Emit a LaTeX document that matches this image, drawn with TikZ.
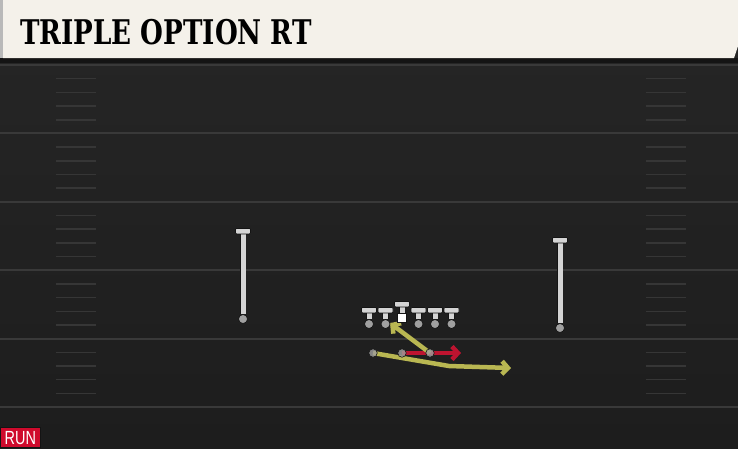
\documentclass[tikz,border=0pt]{standalone}
\usepackage{fontspec}
\usepackage{tikz}
\usetikzlibrary{arrows.meta}
\usetikzlibrary{positioning}
\newfontfamily\titlefont{DejaVu Serif}
\newfontfamily\tagfont{Liberation Sans}
\definecolor{fieldtop}{HTML}{262626}
\definecolor{fieldbot}{HTML}{1D1D1D}
\definecolor{yardline}{HTML}{393939}
\definecolor{hashline}{HTML}{363636}
\definecolor{cream}{HTML}{F4F1EA}
\definecolor{runred}{HTML}{CF0A2C}
\definecolor{routered}{HTML}{BE1430}
\definecolor{routeyellow}{HTML}{B9B752}
\definecolor{playergray}{HTML}{D4D4D4}
\definecolor{dotgray}{HTML}{A0A0A0}
\definecolor{outline}{HTML}{141414}
\pgfdeclarelayer{field}
\pgfdeclarelayer{routes}
\pgfsetlayers{field,routes,main}
\tikzstyle{yard} = [draw=yardline, line width=2pt]
\tikzstyle{hash} = [draw=hashline, line width=1.5pt]
\tikzstyle{blocker} = [circle, minimum size=9pt, inner sep=0pt, fill=dotgray, draw=outline, line width=0.7pt]
\tikzstyle{back} = [circle, minimum size=8.5pt, inner sep=0pt, fill=gray!75, fill opacity=0.8, draw=outline, line width=0.6pt]
\tikzstyle{snapper} = [rectangle, minimum size=9pt, inner sep=0pt, fill=white, draw=outline, line width=0.6pt]
\tikzstyle{stem} = [draw=playergray, line width=5pt, preaction={draw=outline, line width=6.6pt}]
\tikzstyle{bar} = [rectangle, rounded corners=1pt, minimum width=15pt, minimum height=5.5pt, inner sep=0pt, fill=playergray, draw=outline, line width=0.7pt]
\tikzstyle{route} = [line width=4.5pt, line join=round, -{Straight Barb[length=6pt,width=13pt]}]
\tikzstyle{runtag} = [rectangle, minimum width=40pt, minimum height=20pt, inner sep=0pt, fill=runred, draw=outline, line width=0.6pt, text=white]

\begin{document}
\begin{tikzpicture}[x=1pt, y=-1pt, node distance = 16.5pt]
  \useasboundingbox (0,0) rectangle (738,448);
  % field
  \begin{pgfonlayer}{field}
    \shade[top color=fieldtop, bottom color=fieldbot] (0,0) rectangle (738,448);
    \foreach \y in {65,133.4,201.8,270.2,338.6,407}
      \draw[yard] (0,\y) -- (738,\y);
    \foreach \y in {65,133.4,201.8,270.2,338.6}
      \foreach \k in {1,2,3,4} {
        \draw[hash] (56,\y+13.7*\k) -- (96,\y+13.7*\k);
        \draw[hash] (646,\y+13.7*\k) -- (686,\y+13.7*\k);
      }
    \fill[black!92] (0,58) rectangle (738,63);
  \end{pgfonlayer}

  % title bar
  \fill[cream] (3,0) -- (738,0) -- (738,46) -- (734,58) -- (3,58) -- cycle;
  \fill[gray!55] (0,0) rectangle (3,58);
  \node (title) [anchor=base west, inner sep=0pt] at (20,44)
    {\titlefont\bfseries\fontsize{34}{34}\selectfont\scalebox{0.77}[1]{TRIPLE OPTION RT}};

  % line
  \node (c) [snapper] at (402,318) {};
  \node (lg) [blocker, left of=c, yshift=-6pt] {};
  \node (lt) [blocker, left of=lg] {};
  \node (rg) [blocker, right of=c, yshift=-6pt] {};
  \node (rt) [blocker, right of=rg] {};
  \node (te) [blocker, right of=rt] {};
  % receivers
  \node (x) [blocker] at (243,319) {};
  \node (z) [blocker] at (560,328) {};
  \foreach \p/\l in {c/9,lt/9,lg/9,rg/9,rt/9,te/9,x/83,z/83} {
    \draw[stem] (\p.north) -- ++(0,-\l) coordinate (\p top);
    \node (\p bar) [bar] at (\p top) {};
  }

  % backs
  \node (wb) [back] at (373,353) {};
  \node (fb) [back] at (402,353) {};
  \node (hb) [back] at (430,353) {};
  \coordinate (dive) at (390,323);
  \coordinate (option) at (461,353);
  \coordinate (pitchturn) at (449,366);
  \coordinate (pitch) at (511,368);
  \begin{pgfonlayer}{routes}
    \draw[route, routeyellow] (wb.center) -- (pitchturn) -- (pitch);
    \draw[route, routered] (fb.center) -- (option);
    \draw[route, routeyellow] (hb.center) -- (dive);
  \end{pgfonlayer}

  \node (tag) [runtag, anchor=south west] at (0,448)
    {\tagfont\fontsize{19}{19}\selectfont\scalebox{0.76}[1]{RUN}};
\end{tikzpicture}
\end{document}
